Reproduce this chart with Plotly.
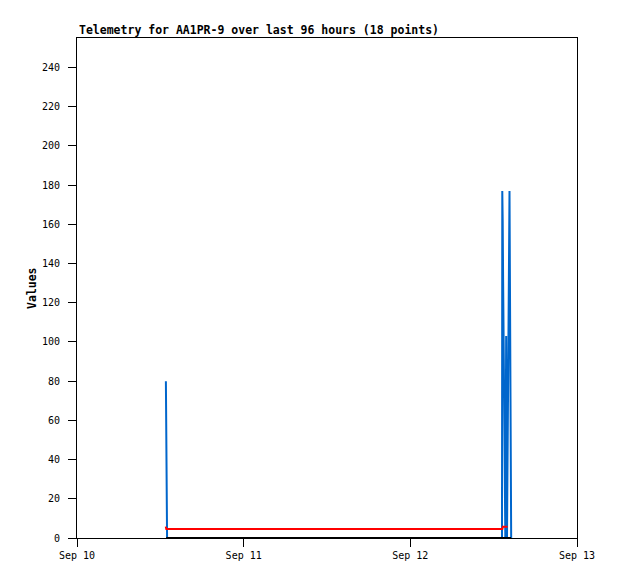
import pandas as pd
import plotly.graph_objects as go

start = pd.Timestamp("2023-09-10 00:00")

# Blue series (hours since Sep 10 00:00, value)
blue_hours = [12.80, 12.88, 12.97, 61.20, 61.24, 61.30, 61.36, 61.42, 61.48, 61.54, 61.60, 61.68,
              61.80, 61.86, 61.92, 62.28, 62.34, 62.40, 62.46, 62.52]
blue_vals = [80, 40, 0, 0, 177, 162, 132, 103, 74, 44, 15, 0,
             103, 45, 0, 177, 97, 44, 15, 0]

# Red series
red_hours = [12.78, 12.86, 61.25, 61.32, 62.00]
red_vals = [5.8, 4.6, 4.6, 5.8, 5.8]

# Black series
black_hours = [12.85, 62.50]
black_vals = [0, 0]

tick_labels = ["Sep 10", "Sep 11", "Sep 12", "Sep 13"]
tick_days = ["2023-09-10", "2023-09-11", "2023-09-12", "2023-09-13"]
y_ticks = list(range(0, 241, 20))


def to_t(hours):
    return [start + pd.Timedelta(hours=h) for h in hours]


fig = go.Figure()
fig.add_trace(go.Scatter(x=to_t(blue_hours), y=blue_vals, mode="lines",
                         line=dict(color="#0066cc", width=2), showlegend=False))
fig.add_trace(go.Scatter(x=to_t(red_hours), y=red_vals, mode="lines",
                         line=dict(color="#ff0000", width=2, shape="linear"), showlegend=False))
fig.add_trace(go.Scatter(x=to_t(black_hours), y=black_vals, mode="lines",
                         line=dict(color="#000000", width=2), showlegend=False))

mono = "DejaVu Sans Mono"
fig.update_layout(
    width=610, height=571,
    margin=dict(l=69, r=41, t=30, b=41),
    plot_bgcolor="white", paper_bgcolor="white",
    font=dict(family=mono, size=10, color="black"),
    xaxis=dict(range=[tick_days[0], tick_days[-1]], tickvals=tick_days, ticktext=tick_labels,
               showgrid=False, zeroline=False, showline=True, linecolor="black", linewidth=1,
               mirror=True, ticks="outside", ticklen=8, tickcolor="black",
               tickfont=dict(family=mono, size=10)),
    yaxis=dict(range=[0, 255], tickvals=y_ticks, showgrid=False, zeroline=False,
               showline=True, linecolor="black", linewidth=1, mirror=True,
               ticks="outside", ticklen=8, tickcolor="black", ticklabelstandoff=6,
               tickfont=dict(family=mono, size=10)),
    annotations=[
        dict(text="<b>Telemetry for AA1PR-9 over last 96 hours (18 points)</b>",
             xref="paper", yref="paper", x=0, y=1, xanchor="left", yanchor="bottom",
             yshift=-1, showarrow=False, font=dict(family=mono, size=11.5, color="black")),
        dict(text="<b>Values</b>", xref="paper", yref="paper", x=0, y=0.5,
             xanchor="center", yanchor="middle", xshift=-45, textangle=-90,
             showarrow=False, font=dict(family=mono, size=11.5, color="black")),
    ],
)

fig.write_html("out.html")
